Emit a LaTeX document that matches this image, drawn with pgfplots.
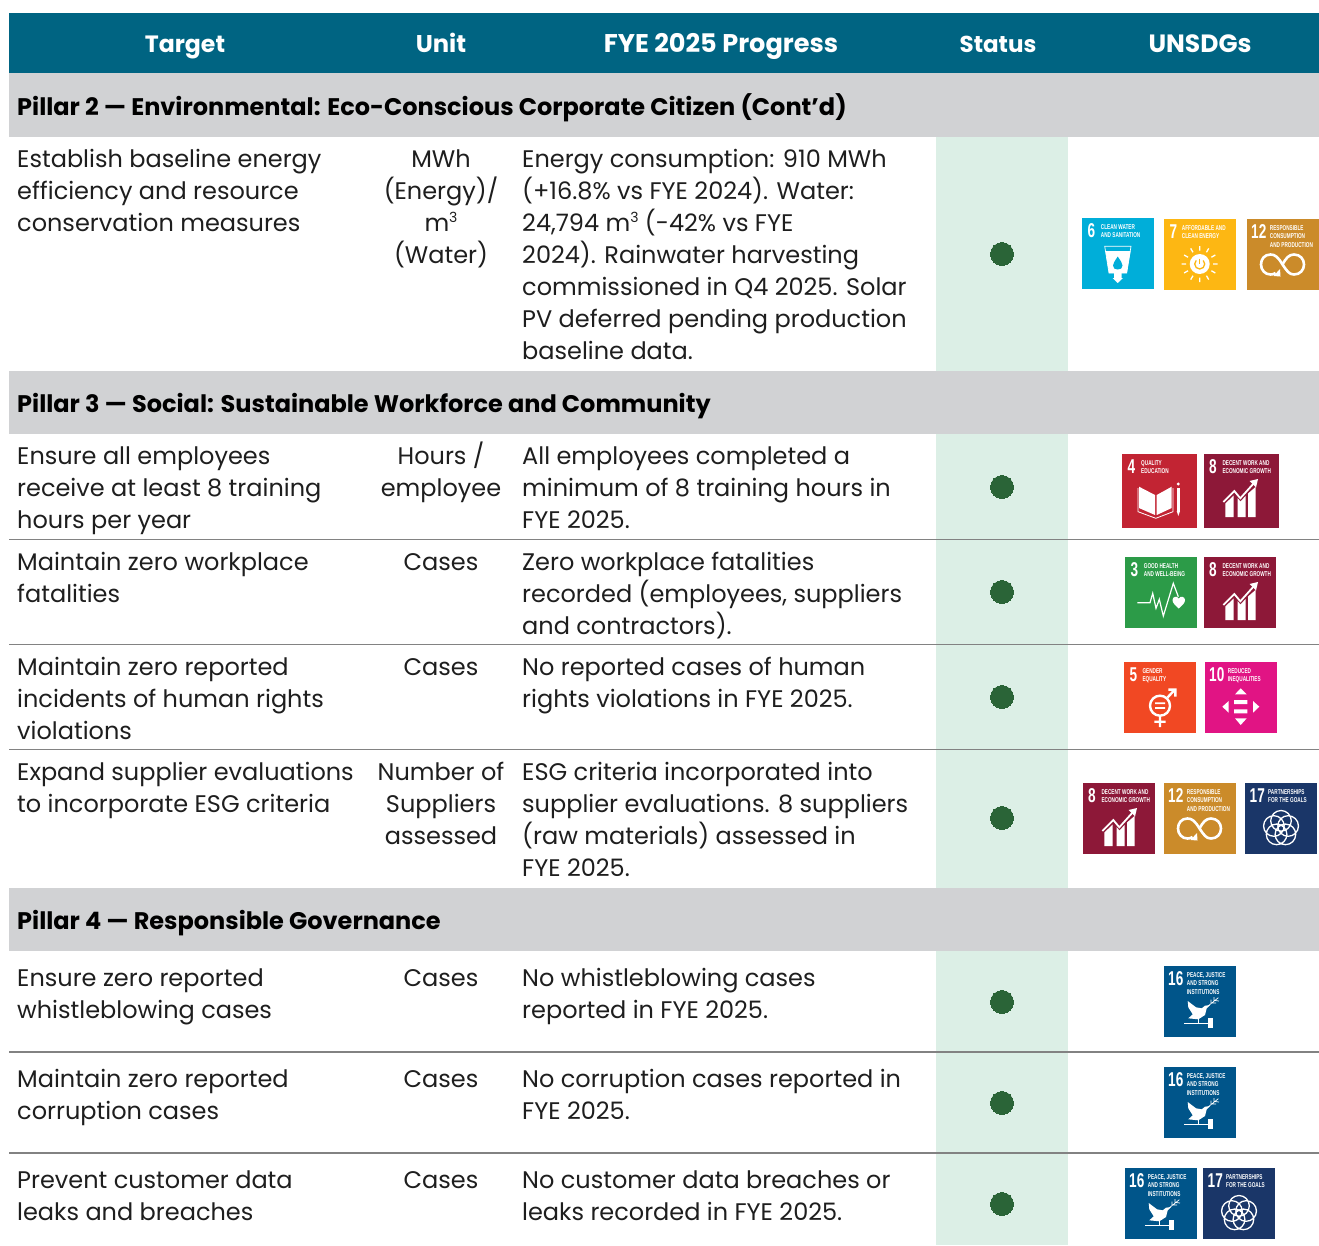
\documentclass[border=0pt]{standalone}
\usepackage{graphicx}
\usepackage{pgfplots}
\pgfplotsset{compat=1.18}
\usepackage{fontspec}
\setmainfont{Poppins}
\newfontfamily\sdgfont{Liberation Sans}
\definecolor{hdr}{RGB}{0,100,130}
\definecolor{band}{RGB}{209,210,212}
\definecolor{stat}{RGB}{220,239,230}
\definecolor{dot}{RGB}{42,100,55}
\definecolor{rule}{RGB}{130,130,130}
\definecolor{txt}{RGB}{30,30,30}
\definecolor{sdgthree}{RGB}{44,155,72}
\definecolor{sdgfour}{RGB}{194,36,51}
\definecolor{sdgfive}{RGB}{241,72,35}
\definecolor{sdgsix}{RGB}{0,174,217}
\definecolor{sdgseven}{RGB}{253,183,19}
\definecolor{sdgeight}{RGB}{141,24,56}
\definecolor{sdgten}{RGB}{225,20,132}
\definecolor{sdgtwelve}{RGB}{203,139,42}
\definecolor{sdgsixteen}{RGB}{0,85,138}
\definecolor{sdgseventeen}{RGB}{26,54,104}
\newcommand{\bfont}{\fontsize{24}{32}\selectfont}
\newcommand{\T}[3]{\node[anchor=base west,inner sep=0pt,text=txt,font=\bfont] at (axis cs:#1,#2) {#3};}
\newcommand{\C}[3]{\node[anchor=base,inner sep=0pt,text=txt,font=\bfont] at (axis cs:#1,#2) {#3};}
\newcommand{\Hd}[3]{\node[anchor=base,inner sep=0pt,text=white,font=\fontsize{#3}{32}\selectfont\bfseries] at (axis cs:#1,52) {#2};}
\newcommand{\Pl}[2]{\node[anchor=base west,inner sep=0pt,text=black,font=\bfont\bfseries] at (axis cs:17,#1) {#2};}
\newcommand{\cubed}{\raisebox{8.5pt}{\fontsize{14}{14}\selectfont 3}}
% tile helpers: local coordinates have x to the right and y downwards from the tile's top left corner
\newcommand{\Lb}[3]{\node[anchor=base west,inner sep=0pt,text=white,font=\sdgfont\fontsize{7}{7.5}\selectfont\bfseries] at (#1,#2) {\scalebox{.67}[1]{#3}};}
\newcommand{\Tile}[8]{%
\begin{scope}[xshift=#1pt,yshift=-#2pt]
\fill[#5] (0,0) rectangle (#3,#4);
\node[anchor=base west,inner sep=0pt,text=white,font=\sdgfont\fontsize{20}{20}\selectfont\bfseries] at (#6) {\scalebox{.68}[1]{#7}};
#8
\end{scope}}
\newcommand{\IconEight}{%
\fill[white] (21.3,63)--(21.3,49.5)--(29.7,41.5)--(29.7,63)--cycle;
\fill[white] (33.5,63)--(33.5,44)--(36.5,47.5)--(41.5,42)--(41.5,63)--cycle;
\fill[white] (44,63)--(44,39.5)--(51.5,33)--(51.5,63)--cycle;
\draw[white,line width=1.8pt] (19.3,48)--(30.3,37)--(36.3,44.3)--(50,29);
\fill[white] (54,25)--(45.5,27)--(52,33.5)--cycle;}
\newcommand{\SDGeight}[4]{\Tile{#1}{#2}{#3}{#4}{sdgeight}{5,19.3}{8}{\Lb{18.3}{11}{DECENT WORK AND}\Lb{18.3}{19.5}{ECONOMIC GROWTH}\IconEight}}
\newcommand{\IconTwelve}{%
\draw[white,line width=2.6pt] (35.5,45.5) .. controls (31,38) and (28,35.5) .. (23.5,35.5) .. controls (17.5,35.5) and (14,40) .. (14,45.5) .. controls (14,51) and (18,55.5) .. (23.5,55.5) .. controls (25.5,55.5) and (27,55) .. (28.5,54);
\draw[white,line width=2.6pt] (35.5,45.5) .. controls (40,52) and (42,55.5) .. (47,55.5) .. controls (53,55.5) and (57,51) .. (57,45.5) .. controls (57,40) and (53,35.5) .. (47,35.5) .. controls (42,35.5) and (39,39) .. (35.5,45.5);
\fill[white] (33,50)--(33.5,57.5)--(26.5,57)--cycle;}
\newcommand{\SDGtwelve}[4]{\Tile{#1}{#2}{#3}{#4}{sdgtwelve}{4,19.3}{12}{\Lb{22.7}{11}{RESPONSIBLE}\Lb{22.7}{19.5}{CONSUMPTION}\Lb{22.7}{28}{AND PRODUCTION}\IconTwelve}}
\newcommand{\IconSeventeen}{%
\draw[white,line width=1.3pt] (36,37.8) circle[radius=10.3pt] (28.87,42.98) circle[radius=10.3pt] (43.13,42.98) circle[radius=10.3pt] (31.59,51.37) circle[radius=10.3pt] (40.41,51.37) circle[radius=10.3pt];}
\newcommand{\SDGseventeen}[4]{\Tile{#1}{#2}{#3}{#4}{sdgseventeen}{4.5,19.3}{17}{\Lb{23}{11}{PARTNERSHIPS}\Lb{23}{19.5}{FOR THE GOALS}\IconSeventeen}}
\newcommand{\IconSixteen}{%
\fill[white] (23.7,35)--(32,41.3)--(37.7,42.3)--(41,39.7)--(46,39)--(42.7,42.3)--(41,49)--(34.3,53.3)--(24.3,52.3)--(28.7,48.3)--(24.3,41.3)--cycle;
\draw[white,line width=.9pt] (34.3,53)--(34.3,56.5);
\draw[white,line width=.7pt] (44,40)--(54.3,31.7) (47,37.5)--(47,33.5) (50,35)--(50,31) (47.5,37)--(52,37) (50.5,34.5)--(55,35);
\draw[white,line width=1.4pt] (20,57.3)--(46,57.3);
\fill[white] (44.3,52.3) rectangle (49.3,62.3);}
\newcommand{\SDGsixteen}[4]{\Tile{#1}{#2}{#3}{#4}{sdgsixteen}{4,19.3}{16}{\Lb{22.7}{11}{PEACE, JUSTICE}\Lb{22.7}{19.5}{AND STRONG}\Lb{22.7}{28}{INSTITUTIONS}\IconSixteen}}
\begin{document}
\begin{tikzpicture}
\begin{axis}[scale only axis,width=1319pt,height=1245pt,xmin=0,xmax=1319,ymin=0,ymax=1245,y dir=reverse,hide axis,clip=false]
% page
\addplot[fill=white,draw=none] coordinates {(0,0)(1319,0)(1319,1245)(0,1245)} --cycle;
% status column
\addplot[fill=stat,draw=none] coordinates {(936,137)(1068,137)(1068,1245)(936,1245)} --cycle;
% header + pillar bands
\addplot[fill=hdr,draw=none] coordinates {(9,13)(1319,13)(1319,73)(9,73)} --cycle;
\addplot[fill=band,draw=none] coordinates {(9,73)(1319,73)(1319,137)(9,137)} --cycle;
\addplot[fill=band,draw=none] coordinates {(9,371)(1319,371)(1319,434)(9,434)} --cycle;
\addplot[fill=band,draw=none] coordinates {(9,888)(1319,888)(1319,951)(9,951)} --cycle;
% row rules
\addplot[rule,line width=1.3pt] coordinates {(9,539.6)(1319,539.6)};
\addplot[rule,line width=1.3pt] coordinates {(9,644.8)(1319,644.8)};
\addplot[rule,line width=1.3pt] coordinates {(9,749.8)(1319,749.8)};
\addplot[rule,line width=1.3pt] coordinates {(9,1052)(1319,1052)};
\addplot[rule,line width=1.3pt] coordinates {(9,1153)(1319,1153)};
% status dots
\addplot[only marks,mark=*,mark size=11.5pt,mark options={fill=dot,draw=dot,line width=0pt}] coordinates {(1002,254)(1002,487)(1002,592)(1002,697)(1002,818)(1002,1002)(1002,1103)(1002,1204)};
% header
\Hd{185}{Target}{23.6}\Hd{441}{Unit}{24.2}\Hd{721}{FYE 2025 Progress}{25.6}\Hd{998}{Status}{23}\Hd{1200}{UNSDGs}{25}
\Pl{115}{Pillar 2 — Environmental: Eco-Conscious Corporate Citizen (Cont’d)}
\Pl{412}{Pillar 3 — Social: Sustainable Workforce and Community}
\Pl{929}{Pillar 4 — Responsible Governance}
% row 1
\T{17}{167}{Establish baseline energy}\T{17}{199}{efficiency and resource}\T{17}{231}{conservation measures}
\C{441}{167}{MWh}\C{441}{199}{(Energy)/}\C{441}{231}{m\cubed}\C{441}{263}{(Water)}
\T{522}{167}{Energy consumption: 910 MWh}\T{522}{199}{(+16.8\% vs FYE 2024). Water:}\T{522}{231}{24,794 m\cubed{} (-42\% vs FYE}\T{522}{263}{2024). Rainwater harvesting}\T{522}{295}{commissioned in Q4 2025. Solar}\T{522}{327}{PV deferred pending production}\T{522}{359}{baseline data.}
% row 2
\T{17}{464}{Ensure all employees}\T{17}{496}{receive at least 8 training}\T{17}{528}{hours per year}
\C{441}{464}{Hours /}\C{441}{496}{employee}
\T{522}{464}{All employees completed a}\T{522}{496}{minimum of 8 training hours in}\T{522}{528}{FYE 2025.}
% row 3
\T{17}{570}{Maintain zero workplace}\T{17}{602}{fatalities}
\C{441}{570}{Cases}
\T{522}{570}{Zero workplace fatalities}\T{522}{602}{recorded (employees, suppliers}\T{522}{634}{and contractors).}
% row 4
\T{17}{675}{Maintain zero reported}\T{17}{707}{incidents of human rights}\T{17}{739}{violations}
\C{441}{675}{Cases}
\T{522}{675}{No reported cases of human}\T{522}{707}{rights violations in FYE 2025.}
% row 5
\T{17}{780}{Expand supplier evaluations}\T{17}{812}{to incorporate ESG criteria}
\C{441}{780}{Number of}\C{441}{812}{Suppliers}\C{441}{844}{assessed}
\T{522}{780}{ESG criteria incorporated into}\T{522}{812}{supplier evaluations. 8 suppliers}\T{522}{844}{(raw materials) assessed in}\T{522}{876}{FYE 2025.}
% row 6
\T{17}{986}{Ensure zero reported}\T{17}{1018}{whistleblowing cases}
\C{441}{986}{Cases}
\T{522}{986}{No whistleblowing cases}\T{522}{1018}{reported in FYE 2025.}
% row 7
\T{17}{1087}{Maintain zero reported}\T{17}{1119}{corruption cases}
\C{441}{1087}{Cases}
\T{522}{1087}{No corruption cases reported in}\T{522}{1119}{FYE 2025.}
% row 8
\T{17}{1188}{Prevent customer data}\T{17}{1220}{leaks and breaches}
\C{441}{1188}{Cases}
\T{522}{1188}{No customer data breaches or}\T{522}{1220}{leaks recorded in FYE 2025.}
% SDG tiles
\Tile{1082}{218}{72}{71}{sdgsix}{5.3,19.3}{6}{\Lb{18.7}{11}{CLEAN WATER}\Lb{18.7}{19.5}{AND SANITATION}%
\draw[white,line width=.7pt] (22.7,28.3)--(49,28.3)--(44.7,55)--(27,55)--cycle;
\fill[white] (23.5,33)--(48.5,33)--(44.7,55)--(27,55)--cycle;
\fill[sdgsix] (35.7,38.5) .. controls (33,43) and (31,45) .. (31,47.5) .. controls (31,50.5) and (33,51.5) .. (35.7,51.5) .. controls (38.5,51.5) and (40.5,50.5) .. (40.5,47.5) .. controls (40.5,45) and (38.5,43) .. (35.7,38.5) -- cycle;
\fill[white] (32,55)--(39.5,55)--(39.5,60)--(41,60)--(35.7,65)--(30.5,60)--(32,60)--cycle;}
\Tile{1164}{219}{72}{71}{sdgseven}{5.3,19.3}{7}{\Lb{17.7}{11}{AFFORDABLE AND}\Lb{17.7}{19.5}{CLEAN ENERGY}%
\draw[white,line width=1.3pt] (49.2,45)--(53.7,45) (22.2,45)--(17.7,45) (35.7,31.5)--(35.7,27) (35.7,58.5)--(35.7,63) (47.4,38.25)--(51.3,36) (24,38.25)--(20.1,36) (47.4,51.75)--(51.3,54) (24,51.75)--(20.1,54) (42.45,33.3)--(44.7,29.4) (28.95,33.3)--(26.7,29.4) (42.45,56.7)--(44.7,60.6) (28.95,56.7)--(26.7,60.6);
\fill[white] (35.7,45) circle[radius=10pt];
\draw[sdgseven,line width=1.3pt] (39.24,41.46) arc[start angle=45,end angle=-225,radius=5pt];
\draw[sdgseven,line width=1.3pt] (35.7,39.5)--(35.7,45);}
\SDGtwelve{1247}{219}{72}{71}
\Tile{1122}{454}{75}{74}{sdgfour}{5.3,19.3}{4}{\Lb{19}{11}{QUALITY}\Lb{19}{19.8}{EDUCATION}%
\fill[white] (17,32.7)--(33,41)--(33,61)--(17,54)--cycle (34.7,41)--(49.7,32.7)--(49.7,54)--(34.7,61)--cycle;
\draw[white,line width=.8pt] (16,34)--(16,57.7)--(33.8,64.3)--(51,57.7)--(51,34);
\fill[white] (54.7,34) rectangle (58,57);
\fill[white] (54.7,57)--(58,57)--(56.3,62)--cycle;
\fill[white] (56.3,30) circle[radius=1.6pt];}
\SDGeight{1204}{454}{75}{74}
\Tile{1125}{557}{72}{71}{sdgthree}{5.3,19.3}{3}{\Lb{18.7}{11}{GOOD HEALTH}\Lb{18.7}{19.5}{AND WELL-BEING}%
\draw[white,line width=1.2pt] (12.3,45.7)--(25,45.7)--(27.7,36.3)--(31,51.3)--(34.3,42.3)--(38.3,59)--(48.3,26.3)--(53.3,39.7);
\fill[white] (53.7,51.5) .. controls (50,48) and (47.5,46) .. (47.5,43) .. controls (47.5,39.5) and (52,38.5) .. (53.7,41.5) .. controls (55.5,38.5) and (60,39.5) .. (60,43) .. controls (60,46) and (57.5,48) .. (53.7,51.5) -- cycle;}
\SDGeight{1204}{557}{72}{71}
\Tile{1124}{662}{72}{71}{sdgfive}{5.3,19.3}{5}{\Lb{18.3}{11}{GENDER}\Lb{18.3}{19.5}{EQUALITY}%
\draw[white,line width=2.4pt] (36,43.7) circle[radius=10pt];
\fill[white] (31,40.3) rectangle (41,42.2) (31,45) rectangle (41,46.9);
\draw[white,line width=2.4pt] (36,54)--(36,65) (30.3,59.7)--(41.7,59.7) (43.5,35.5)--(50.5,28);
\fill[white] (44.3,26.3)--(52.5,26.3)--(52.5,34.7)--(50,34.7)--(50,28.8)--(44.3,28.8)--cycle;}
\Tile{1205}{662}{72}{71}{sdgten}{4,19.3}{10}{\Lb{22.7}{11}{REDUCED}\Lb{22.7}{19.5}{INEQUALITIES}%
\fill[white] (30,32.3)--(41.7,32.3)--(35.7,26.3)--cycle (30,56.3)--(41.7,56.3)--(35.7,63)--cycle (23.7,39)--(23.7,50.7)--(17.3,44.7)--cycle (48,39)--(48,50.7)--(54.3,44.7)--cycle;
\fill[white] (29,38) rectangle (42.3,42) (29,47.3) rectangle (42.3,51.3);}
\SDGeight{1083}{783}{72}{71}
\SDGtwelve{1164}{783}{72}{71}
\SDGseventeen{1245}{783}{72}{71}
\SDGsixteen{1164}{966}{72}{71}
\SDGsixteen{1164}{1067}{72}{71}
\SDGsixteen{1125}{1168}{72}{71}
\SDGseventeen{1203}{1168}{72}{71}
\end{axis}
\pgfresetboundingbox
\useasboundingbox (0,0) rectangle (1319pt,1245pt);
\end{tikzpicture}
\end{document}
